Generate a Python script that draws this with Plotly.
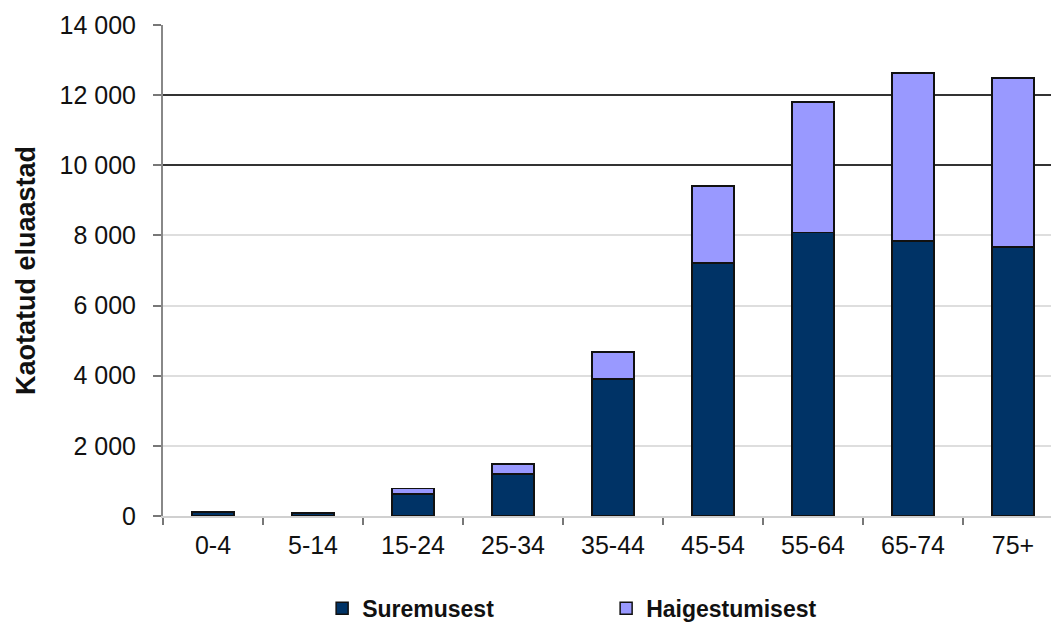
import plotly.graph_objects as go

categories = ["0-4", "5-14", "15-24", "25-34", "35-44", "45-54", "55-64", "65-74", "75+"]
suremusest = [110, 80, 630, 1200, 3900, 7210, 8085, 7846, 7667]
haigestumisest = [15, 12, 160, 285, 770, 2200, 3715, 4780, 4828]
dark_grid_ticks = [10000, 12000, 14000]

FONT = "Liberation Sans, Arial, sans-serif"

fig = go.Figure()
fig.add_trace(go.Bar(
    name="Suremusest", x=categories, y=suremusest,
    marker=dict(color="#003366", line=dict(color="#111111", width=1.5)),
))
fig.add_trace(go.Bar(
    name="Haigestumisest", x=categories, y=haigestumisest,
    marker=dict(color="#9999ff", line=dict(color="#111111", width=1.5)),
))
# helper trace carrying the secondary axis with darker gridlines
fig.add_trace(go.Scatter(
    x=[categories[0]], y=[0], yaxis="y2", mode="none",
    showlegend=False, hoverinfo="skip",
))

fig.update_layout(
    width=1051, height=622,
    barmode="stack", bargap=0.58,
    paper_bgcolor="white", plot_bgcolor="white",
    separators=", ",
    margin=dict(l=163, r=0, t=25, b=106),
    font=dict(family=FONT, size=24, color="#111111"),
    xaxis=dict(
        type="category", range=[-0.5, 8.38],
        showline=True, linecolor="#d0d0d0", linewidth=2,
        ticks="outside", tickson="boundaries", ticklen=7, tickcolor="#777777", tickwidth=2,
        ticklabelstandoff=6,
        showgrid=False, tickfont=dict(size=25, family=FONT),
    ),
    yaxis=dict(
        range=[0, 14000], dtick=2000, tickformat=",d",
        showline=True, linecolor="#888888", linewidth=2,
        ticks="outside", ticklen=8, tickcolor="#777777", tickwidth=1.5,
        ticklabelstandoff=12,
        showgrid=True, gridcolor="#dedede", gridwidth=2, zeroline=False,
        title=dict(text="Kaotatud eluaastad", standoff=16,
                   font=dict(size=27, family=FONT, weight="bold")),
        tickfont=dict(size=25, family=FONT),
    ),
    yaxis2=dict(
        overlaying="y", range=[0, 14000], tickvals=dark_grid_ticks,
        showgrid=True, gridcolor="#333333", gridwidth=1.5, zeroline=False,
        showticklabels=False, ticks="", showline=False,
    ),
    legend=dict(
        orientation="h", xref="container", yref="container",
        x=0.3065, y=0.022, xanchor="left", yanchor="middle",
        entrywidth=239, entrywidthmode="pixels",
        font=dict(size=23, family=FONT, weight="bold"),
        traceorder="normal",
    ),
)

fig.write_html(
    "out.html",
    config={"displayModeBar": False},
    post_script="document.body.style.margin='0';document.body.style.overflow='hidden';",
)
